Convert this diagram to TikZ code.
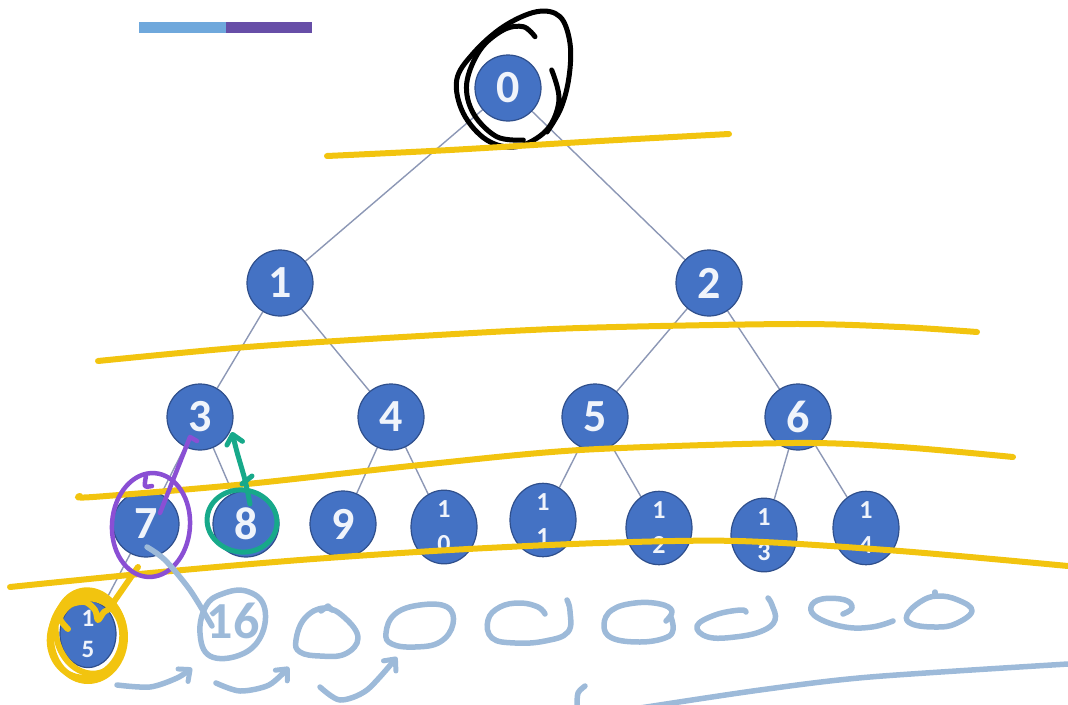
\documentclass[tikz,border=0pt]{standalone}
\usepackage{fontspec}
\setmainfont{Carlito}
\usetikzlibrary{shapes.geometric,arrows.meta,backgrounds}
\definecolor{nodefill}{HTML}{4472C4}
\definecolor{nodeborder}{HTML}{2F4F8C}
\definecolor{nodetext}{HTML}{F0F4FB}
\definecolor{edgecol}{HTML}{8C97B5}
\definecolor{hlyellow}{HTML}{F2C40F}
\definecolor{hlpurple}{HTML}{8A4FD4}
\definecolor{hlgreen}{HTML}{17A98A}
\definecolor{hlblue}{HTML}{9DBAD9}
\definecolor{barblue}{HTML}{6FA8DC}
\definecolor{barpurple}{HTML}{674EA7}
\begin{document}
\begin{tikzpicture}[x=1pt,y=-1pt,
  tnode/.style={circle, fill=nodefill, draw=nodeborder, line width=1.2pt, minimum size=66pt, inner sep=0pt, text=nodetext, font=\fontsize{46}{46}\selectfont\bfseries},
  tnodetwo/.style={ellipse, fill=nodefill, draw=nodeborder, line width=1.2pt, minimum width=66pt, minimum height=70pt, inner sep=0pt, text=nodetext, align=center, font=\fontsize{26}{35}\selectfont\bfseries},
  edge/.style={draw=edgecol, line width=1.4pt},
  yellowpen/.style={draw=hlyellow, line width=6pt, line cap=round, line join=round},
  blackpen/.style={draw=black, line width=5pt, line cap=round, line join=round},
  purplepen/.style={draw=hlpurple, line width=4.5pt, line cap=round, line join=round},
  greenpen/.style={draw=hlgreen, line width=5pt, line cap=round, line join=round},
  bluepen/.style={draw=hlblue, line width=5.5pt, line cap=round, line join=round},
  penhead/.style={-{Straight Barb[length=9pt,width=16pt,line width=5pt,round]}}
]
\useasboundingbox (0,0) rectangle (1068,704);
% top bar
\fill[barblue] (139,22) rectangle (226,33);
\fill[barpurple] (226,22) rectangle (312,33);
% nodes
\node[tnode] (n0) at (508,88) {0};
\node[tnode] (n1) at (280,283) {1};
\node[tnode] (n2) at (709,283) {2};
\node[tnode] (n3) at (200,417) {3};
\node[tnode] (n4) at (391,417) {4};
\node[tnode] (n5) at (595,417) {5};
\node[tnode] (n6) at (798,417) {6};
\node[tnode] (n7) at (146,524) {7};
\node[tnode] (n8) at (246,524) {8};
\node[tnode] (n9) at (343,524) {9};
\node[tnodetwo] (n10) at (444,527) {1\\0};
\node[tnodetwo] (n11) at (543,520) {1\\1};
\node[tnodetwo] (n12) at (659,528) {1\\2};
\node[tnodetwo] (n13) at (764,535) {1\\3};
\node[tnodetwo] (n14) at (866,528) {1\\4};
\node[tnodetwo, minimum width=56pt, minimum height=62pt, font=\fontsize{25}{31}\selectfont\bfseries] (n15) at (88,634) {1\\5};
% edges
\begin{pgfonlayer}{background}
\draw[edge] (n0) -- (n1);
\draw[edge] (n0) -- (n2);
\draw[edge] (n1) -- (n3);
\draw[edge] (n1) -- (n4);
\draw[edge] (n2) -- (n5);
\draw[edge] (n2) -- (n6);
\draw[edge] (n3) -- (n7);
\draw[edge] (n3) -- (n8);
\draw[edge] (n4) -- (n9);
\draw[edge] (n4) -- (n10);
\draw[edge] (n5) -- (n11);
\draw[edge] (n5) -- (n12);
\draw[edge] (n6) -- (n13);
\draw[edge] (n6) -- (n14);
\draw[edge] (n7) -- (n15);
\end{pgfonlayer}
% black scribble around 0
\draw[blackpen] plot[smooth, tension=0.6] coordinates {(551.7,70) (559,100) (546.7,130) (516.7,146.7) (486.7,140) (463.3,113.3) (456.7,80) (473.3,53.3) (503.3,26.7) (536.7,11.7) (560,16.7) (570,43.3) (569,77) (561,108) (547,132)};
\draw[blackpen] plot[smooth, tension=0.6] coordinates {(535,36.7) (523.3,26.7) (503.3,30) (480,50) (466.7,83.3) (473.3,113.3) (496.7,136.7) (523.3,140)};
% yellow level lines
\draw[yellowpen] plot[smooth] coordinates {(327,156) (450,150) (600,141) (729,134)};
\draw[yellowpen] plot[smooth] coordinates {(98,361) (247,347) (420,336) (580,328) (793,324) (900,327) (977,332)};
\draw[yellowpen] plot[smooth] coordinates {(80,496) (93,497) (247,484) (420,465) (580,450) (793,443) (900,447) (1013,457)};
\draw[yellowpen] plot[smooth] coordinates {(10,587) (150,573) (300,560) (450,550) (600,543) (738,541) (900,551) (1068,566)};
% yellow scribble on 15
\draw[yellowpen] (138,567) -- (113,603);
\draw[yellowpen] (88,637) ellipse (37 and 44);
\draw[yellowpen, rotate around={12:(90,632)}] (90,632) ellipse (34 and 42);
\draw[yellowpen, rotate around={-15:(86,638)}] (86,638) ellipse (36 and 40);
\draw[yellowpen] plot[smooth] coordinates {(68,629) (60,618) (70,605) (85,602) (95,610) (98,620) (104,612) (112,608)};
% purple
\draw[purplepen, rotate around={-4:(151,525)}] (151,525) ellipse (39 and 52);
\draw[purplepen] plot[smooth] coordinates {(146,476) (145,486) (152,486)};
\draw[purplepen] (197,441) -- (190,437) -- (160,513);
% green
\draw[greenpen, rotate around={-8:(242,521)}] (242,521) ellipse (35 and 31);
\draw[greenpen, penhead] plot[smooth] coordinates {(250,504) (245,480) (237,452) (232,432)};
\draw[greenpen] (242,484) -- (252,476);
% light blue pen
\draw[bluepen] plot[smooth] coordinates {(147,547) (165,560) (190,590) (212,626)};
\draw[bluepen] plot[smooth cycle, tension=0.7] coordinates {(200,633) (206,606) (222,594) (246,591) (264,606) (261,636) (240,655) (210,656)};
\node[text=hlblue, font=\fontsize{52}{52}\selectfont\bfseries] (t16) at (233,621) {16};
\draw[bluepen] plot[smooth cycle, tension=0.7] coordinates {(296,640) (305,618) (325,608) (345,618) (358,638) (345,654) (320,656) (300,652)};
\draw[bluepen] (321,611) -- (328,606) -- (332,610);
\draw[bluepen] plot[smooth cycle, tension=0.7] coordinates {(386,633) (395,614) (420,605) (447,607) (453,624) (440,642) (415,647) (392,644)};
\draw[bluepen] plot[smooth, tension=0.7] coordinates {(545,614) (538,607) (520,603) (500,607) (488,620) (492,638) (515,643) (545,641) (568,632) (570,611) (567,600)};
\draw[bluepen] plot[smooth, tension=0.7] coordinates {(666,621) (672,611) (660,604) (635,603) (612,610) (604,625) (612,638) (640,642) (665,638) (673,630) (671,617)};
\draw[bluepen] plot[smooth, tension=0.7] coordinates {(746,612) (740,610) (715,615) (697,626) (708,637) (735,637) (762,631) (775,620) (772,605) (768,598)};
\draw[bluepen] plot[smooth, tension=0.7] coordinates {(843,614) (852,608) (845,600) (822,599) (811,607) (818,618) (845,627) (872,627) (893,621)};
\draw[bluepen] plot[smooth cycle, tension=0.7] coordinates {(907,615) (920,602) (937,596) (958,600) (972,611) (955,624) (935,627) (912,624)};
\draw[bluepen] (935,596) -- (935,592);
% arrows
\draw[bluepen, penhead] plot[smooth] coordinates {(117,685) (150,687) (177,678) (192,668)};
\draw[bluepen, penhead] plot[smooth] coordinates {(216,683) (240,691) (269,685) (289,667)};
\draw[bluepen, penhead] plot[smooth] coordinates {(320,687) (340,700) (367,690) (397,657)};
% bottom strokes
\draw[bluepen] plot[smooth] coordinates {(585,686) (578,693) (577,706)};
\draw[bluepen] plot[smooth] coordinates {(640,708) (760,690) (870,677) (1068,664)};
\end{tikzpicture}
\end{document}
